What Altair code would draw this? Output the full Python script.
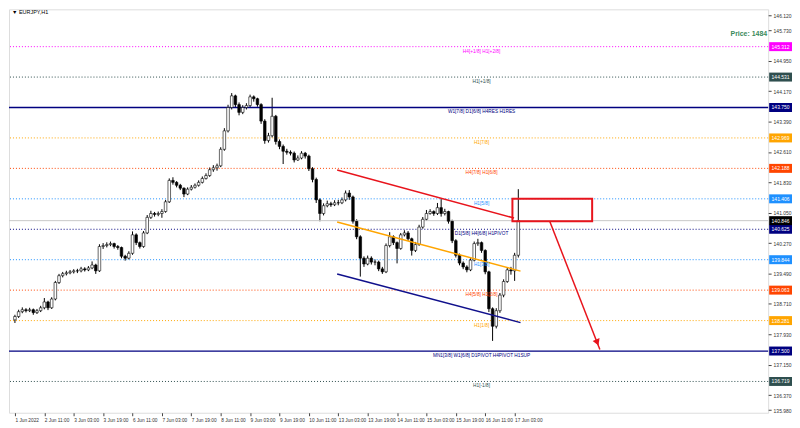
import json
import altair as alt
import pandas as pd

# ---------------- data ----------------
symbol_title = "▼ EURJPY,H1"
price_note = "Price: 1484"

x_tick_labels = ["1 Jun 2022", "2 Jun 11:00", "3 Jun 03:00", "3 Jun 19:00", "6 Jun 11:00",
                 "7 Jun 03:00", "7 Jun 19:00", "8 Jun 11:00", "9 Jun 03:00", "9 Jun 19:00",
                 "10 Jun 11:00", "13 Jun 03:00", "13 Jun 19:00", "14 Jun 11:00", "15 Jun 03:00",
                 "15 Jun 19:00", "16 Jun 11:00", "17 Jun 03:00"]
x_tick_hours = [0, 16, 32, 48, 64, 80, 96, 112, 128, 144, 160, 176, 192, 208, 224, 240, 256, 272]
y_tick_values = [146.120, 145.730, 144.950, 144.170, 143.390, 142.610, 141.830, 141.050,
                 140.270, 139.490, 138.710, 137.930, 137.150, 136.370, 135.980]

# 2-hour candles (hour index since 1 Jun 19:00)
first_open = 138.30
closes = [138.386, 138.51, 138.56, 138.535, 138.56, 138.486, 138.535, 138.61, 138.76, 138.61,
          138.835, 139.259, 139.434, 139.484, 139.508, 139.533, 139.558, 139.558, 139.608, 139.583,
          139.633, 139.708, 139.558, 140.182, 140.207, 140.232, 140.257, 140.182, 140.157, 139.933,
          139.883, 140.008, 140.482, 140.282, 140.182, 140.531, 140.931, 141.030, 141.006, 141.030,
          141.080, 141.330, 141.879, 141.829, 141.754, 141.679, 141.529, 141.654, 141.704, 141.754,
          141.829, 141.929, 142.004, 142.153, 142.203, 142.253, 142.677, 143.151, 143.750, 144.049,
          143.825, 143.625, 143.750, 143.800, 144.024, 143.975, 143.825, 143.401, 142.902, 143.026,
          143.525, 142.877, 142.752, 142.627, 142.602, 142.577, 142.403, 142.453, 142.577, 142.503,
          142.178, 141.904, 141.380, 141.030, 141.230, 141.280, 141.255, 141.305, 141.305, 141.380,
          141.554, 141.455, 140.831, 140.432, 139.883, 139.733, 139.883, 139.783, 139.783, 139.608,
          139.533, 140.207, 140.432, 140.282, 140.132, 140.482, 140.531, 140.382, 140.082, 140.232,
          140.681, 140.881, 141.030, 141.080, 141.030, 141.180, 141.030, 141.080, 140.831, 140.332,
          139.958, 139.758, 139.658, 139.583, 139.833, 140.257, 140.282, 140.082, 139.533, 138.585,
          138.136, 138.535, 138.935, 139.284, 139.583, 139.558, 139.958, 140.846]
highs = [138.43, 138.56, 138.62, 138.60, 138.61, 138.59, 138.58, 138.66, 138.86, 138.79,
         138.88, 139.30, 139.48, 139.53, 139.56, 139.58, 139.60, 139.61, 139.66, 139.65,
         139.68, 139.80, 139.74, 140.24, 140.27, 140.29, 140.31, 140.28, 140.22, 140.18,
         139.97, 140.06, 140.57, 140.52, 140.31, 140.58, 140.99, 141.10, 141.07, 141.08,
         141.14, 141.38, 141.93, 141.96, 141.86, 141.79, 141.70, 141.70, 141.76, 141.80,
         141.88, 141.98, 142.06, 142.21, 142.27, 142.31, 142.73, 143.22, 143.82, 144.12,
         144.08, 143.88, 143.81, 143.86, 144.08, 144.06, 144.00, 143.86, 143.45, 143.10,
         144.00, 143.56, 142.93, 142.80, 142.69, 142.65, 142.62, 142.52, 142.63, 142.61,
         142.54, 142.22, 141.95, 141.42, 141.29, 141.36, 141.33, 141.37, 141.38, 141.44,
         141.62, 141.63, 141.49, 140.88, 140.47, 139.93, 139.95, 139.93, 139.85, 139.82,
         139.66, 140.26, 140.55, 140.47, 140.31, 140.53, 140.60, 140.58, 140.41, 140.30,
         140.74, 140.94, 141.12, 141.14, 141.11, 141.30, 141.40, 141.15, 141.10, 140.87,
         140.37, 140.00, 139.80, 139.70, 139.88, 140.31, 140.38, 140.31, 140.11, 139.56,
         138.62, 138.60, 138.99, 139.34, 139.64, 139.66, 140.02, 141.654]
lows = [138.22, 138.35, 138.47, 138.49, 138.50, 138.43, 138.45, 138.50, 138.57, 138.55,
        138.58, 138.80, 139.22, 139.39, 139.44, 139.47, 139.49, 139.50, 139.52, 139.54,
        139.55, 139.60, 139.48, 139.53, 140.12, 140.16, 140.19, 140.13, 140.10, 139.88,
        139.82, 139.85, 139.97, 140.22, 140.13, 140.15, 140.50, 140.89, 140.95, 140.96,
        140.92, 141.05, 141.30, 141.77, 141.70, 141.63, 141.45, 141.50, 141.62, 141.67,
        141.72, 141.80, 141.90, 141.97, 142.10, 142.13, 142.22, 142.64, 143.11, 143.70,
        143.74, 143.55, 143.58, 143.70, 143.76, 143.90, 143.77, 143.33, 142.82, 142.85,
        142.98, 142.80, 142.68, 142.30, 142.54, 142.52, 142.34, 142.38, 142.42, 142.44,
        142.12, 141.83, 141.30, 140.83, 140.98, 141.19, 141.20, 141.22, 141.24, 141.27,
        141.34, 141.38, 140.77, 140.37, 139.41, 139.66, 139.70, 139.72, 139.70, 139.55,
        139.48, 139.50, 140.16, 140.22, 139.75, 140.10, 140.44, 140.33, 139.95, 140.04,
        140.20, 140.64, 140.84, 141.00, 140.97, 140.99, 140.95, 140.98, 140.77, 140.27,
        139.90, 139.70, 139.60, 139.52, 139.55, 139.80, 140.20, 140.02, 139.47, 138.50,
        137.76, 138.08, 138.48, 138.88, 139.25, 139.46, 139.30, 139.90]
candle_hours = [2 * k for k in range(len(closes))]

level_prices = [145.312, 144.531, 143.750, 142.969, 142.188, 141.406, 140.625,
                139.844, 139.063, 138.281, 137.500, 136.719]
level_colors = ["#ff00ff", "#2f4f4f", "#000080", "#ffa500", "#ff4500", "#1e90ff", "#000080",
                "#1e90ff", "#ff4500", "#ffa500", "#000080", "#2f4f4f"]
level_solid = [False, False, True, False, False, False, False,
               False, False, False, True, False]
level_texts = ["H4[+1/8] H1[+2/8]", "H1[+1/8]", "W1[7/8] D1[6/8] H4RES H1RES", "H1[7/8]",
               "H4[7/8] H1[6/8]", "H1[5/8]", "D1[5/8] H4[6/8] H1PIVOT", "H1[3/8]",
               "H4[5/8] H1[2/8]", "H1[1/8]", "MN1[3/8] W1[6/8] D1PIVOT H4PIVOT H1SUP", "H1[-1/8]"]
level_label_hour = 254

current_price = 140.846

trend_names = ["red", "red", "orange", "orange", "navy", "navy"]
trend_hours = [175.4, 271.7, 175.4, 275.2, 175.4, 275.2]
trend_prices = [142.146, 140.913, 140.813, 139.551, 139.476, 138.229]
trend_colors = {"red": "#e8141c", "orange": "#ffa500", "navy": "#10108c"}

box_hours = [270.8, 314.2]
box_prices = [141.406, 140.83]
arrow_hours = [291.1, 318.4]
arrow_prices = [140.83, 137.537]
arrow_head = (317.0, 137.72)

# ---------------- layout ----------------
W, H = 764, 406
x_dom = [-0.53, 407.3]
y_dom = [135.916, 146.27]
FONT = "Liberation Sans"

xs = alt.Scale(domain=x_dom, nice=False, zero=False)
ys = alt.Scale(domain=y_dom, nice=False, zero=False)

opens = [first_open] + closes[:-1]
candles = pd.DataFrame({"t": candle_hours, "open": opens, "close": closes,
                        "high": highs, "low": lows})
candles["up"] = candles["close"] >= candles["open"]

levels = pd.DataFrame({"price": level_prices, "color": level_colors,
                       "solid": level_solid, "text": level_texts})
levels["t"] = level_label_hour
levels["plabel"] = levels["price"].map(lambda v: f"{v:.3f}")

label_expr = json.dumps(x_tick_labels) + "[round(datum.value / 16)]"

XA = alt.Axis(values=x_tick_hours, labelExpr=label_expr, labelAlign="left",
              labelFontSize=4.8, labelFont=FONT, labelColor="#333", tickSize=3,
              tickColor="#444", labelPadding=2, domain=False, grid=False,
              labelOverlap=False, labelFlush=False, title=None)
YA = alt.Axis(orient="right", values=y_tick_values, format=".3f", labelFontSize=5,
              labelFont=FONT, labelColor="#333", tickSize=3, tickColor="#444",
              labelPadding=2, domain=False, grid=False, title=None, labelOverlap=False,
              labelFlush=False)


def X(f):
    return alt.X(f, scale=xs, axis=XA)


def Y(f):
    return alt.Y(f, scale=ys, axis=YA)


# level lines
dotted = alt.Chart(levels).transform_filter("!datum.solid").mark_rule(
    strokeWidth=1, strokeDash=[1, 2]).encode(
    y=Y("price:Q"), color=alt.Color("color:N", scale=None))
solid = alt.Chart(levels).transform_filter("datum.solid").mark_rule(
    strokeWidth=1.3).encode(
    y=Y("price:Q"), color=alt.Color("color:N", scale=None))
cur_line = alt.Chart(pd.DataFrame({"price": [current_price]})).mark_rule(
    color="#c8c8c8", strokeWidth=1).encode(y=Y("price:Q"))

level_text = alt.Chart(levels).mark_text(fontSize=4.8, font=FONT, dy=5, baseline="middle",
                                          align="center").encode(
    x=X("t:Q"), y=Y("price:Q"), text="text:N", color=alt.Color("color:N", scale=None))

# candles
wicks = alt.Chart(candles).mark_rule(color="#000", strokeWidth=1).encode(
    x=X("t:Q"), y=Y("low:Q"), y2="high:Q")
bodies = alt.Chart(candles).mark_bar(size=2.6, stroke="#000", strokeWidth=0.6).encode(
    x=X("t:Q"), y=Y("open:Q"), y2="close:Q",
    fill=alt.condition("datum.up", alt.value("#ffffff"), alt.value("#000000")))

# trend lines
trend = pd.DataFrame({"name": trend_names, "t": trend_hours, "price": trend_prices})
trend["color"] = trend["name"].map(trend_colors)
trend_lines = alt.Chart(trend).mark_line(strokeWidth=1.5).encode(
    x=X("t:Q"), y=Y("price:Q"), detail="name:N", color=alt.Color("color:N", scale=None))

box = alt.Chart(pd.DataFrame({"t0": [box_hours[0]], "t1": [box_hours[1]],
                              "p0": [box_prices[0]], "p1": [box_prices[1]]})).mark_rect(
    fill=None, stroke="#e8141c", strokeWidth=2, filled=False).encode(
    x=X("t0:Q"), x2="t1:Q", y=Y("p0:Q"), y2="p1:Q")

arrow = alt.Chart(pd.DataFrame({"t0": [arrow_hours[0]], "t1": [arrow_hours[1]],
                                "p0": [arrow_prices[0]], "p1": [arrow_prices[1]]})).mark_rule(
    color="#e8141c", strokeWidth=1.5).encode(
    x=X("t0:Q"), x2="t1:Q", y=Y("p0:Q"), y2="p1:Q")
arrow_tip = alt.Chart(pd.DataFrame({"t": [arrow_head[0]], "p": [arrow_head[1]]})).mark_point(
    shape="triangle-down", filled=True, color="#e8141c", size=55, angle=338, opacity=1).encode(
    x=X("t:Q"), y=Y("p:Q"))

# price boxes on right axis
boxes_df = pd.concat([levels[["price", "color", "plabel"]],
                      pd.DataFrame({"price": [current_price], "color": ["#000000"],
                                    "plabel": [f"{current_price:.3f}"]})], ignore_index=True)
pbox = alt.Chart(boxes_df).transform_calculate(
    hi="datum.price + 0.115", lo="datum.price - 0.115").mark_rect().encode(
    x=alt.value(W + 1), x2=alt.value(W + 24),
    y=Y("hi:Q"), y2="lo:Q",
    color=alt.Color("color:N", scale=None))
ptext = alt.Chart(boxes_df).mark_text(fontSize=5, font=FONT, color="#ffffff",
                                      align="center", baseline="middle").encode(
    x=alt.value(W + 12.5), y=Y("price:Q"), text="plabel:N")

title_txt = alt.Chart(pd.DataFrame({"s": [symbol_title]})).mark_text(
    fontSize=5.5, font=FONT, color="#000", align="left", baseline="middle").encode(
    x=alt.value(3), y=alt.value(3), text="s:N")
price_txt = alt.Chart(pd.DataFrame({"s": [price_note]})).mark_text(
    fontSize=7, font=FONT, fontWeight="bold", color="#3a8a5c", align="right",
    baseline="middle").encode(x=alt.value(W - 1), y=alt.value(25), text="s:N")

chart = alt.layer(
    wicks, dotted, solid, cur_line, bodies, trend_lines, box, arrow, arrow_tip,
    level_text, pbox, ptext, title_txt, price_txt
).properties(
    width=W, height=H, padding={"left": 0, "top": 0, "right": 0, "bottom": 0}
).configure_view(stroke="#555555", strokeWidth=1).configure(background="#ffffff")

chart.save("out.html", embed_options={"renderer": "svg", "actions": False})
